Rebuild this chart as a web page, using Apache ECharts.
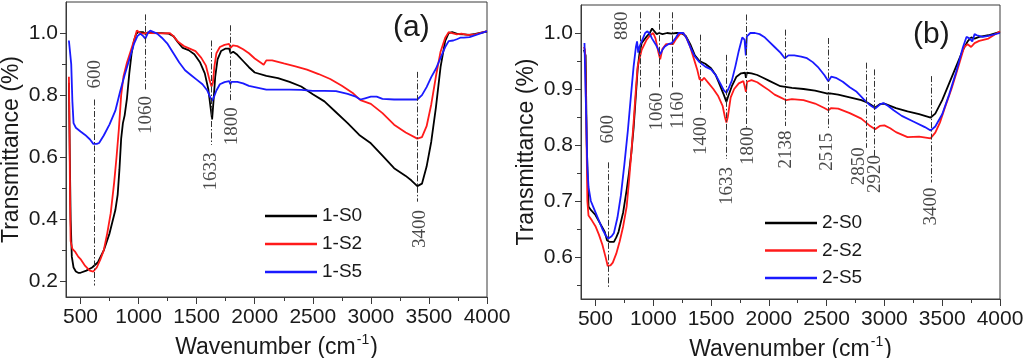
<!DOCTYPE html>
<html><head><meta charset="utf-8">
<script src="https://cdn.jsdelivr.net/npm/echarts@6/dist/echarts.min.js"></script>
<style>html,body{margin:0;padding:0;background:#fff}#c{width:1024px;height:358px}</style>
</head><body><div id="c"></div>
<script>
// ---------- tick values ----------
const xMajor = [500,1000,1500,2000,2500,3000,3500,4000];
const xMinor = [750,1250,1750,2250,2750,3250,3750];
const yMajorA = [0.2,0.4,0.6,0.8,1.0];
const yMinorA = [0.3,0.5,0.7,0.9];
const yMajorB = [0.6,0.7,0.8,0.9,1.0];
const yMinorB = [0.55,0.65,0.75,0.85,0.95];

// ---------- series names ----------
const namesA = ['1-S0','1-S2','1-S5'];
const namesB = ['2-S0','2-S2','2-S5'];

// ---------- panel (a) ----------
const a_S0 = [[400,0.84],[408,0.6],[415,0.40],[425,0.28],[440,0.245],[460,0.232],[480,0.228],[500,0.228],[550,0.235],[600,0.245],[650,0.262],[700,0.30],[750,0.355],[800,0.43],[820,0.48],[835,0.56],[850,0.66],[865,0.71],[880,0.735],[900,0.79],[920,0.87],[940,0.935],[960,0.975],[980,0.998],[1000,1.003],[1040,1.003],[1060,0.997],[1080,1.002],[1150,1.0],[1200,1.0],[1260,0.998],[1300,0.99],[1340,0.97],[1380,0.952],[1430,0.945],[1480,0.932],[1530,0.905],[1570,0.87],[1600,0.82],[1620,0.76],[1633,0.722],[1645,0.78],[1660,0.86],[1680,0.915],[1710,0.942],[1750,0.95],[1780,0.95],[1792,0.935],[1815,0.94],[1850,0.93],[1900,0.91],[1950,0.89],[2000,0.873],[2100,0.862],[2200,0.855],[2300,0.843],[2400,0.828],[2500,0.803],[2600,0.78],[2700,0.745],[2800,0.71],[2900,0.672],[3000,0.645],[3100,0.605],[3200,0.565],[3300,0.54],[3350,0.525],[3400,0.507],[3440,0.515],[3480,0.57],[3520,0.65],[3560,0.76],[3600,0.89],[3640,0.975],[3670,1.0],[3700,1.003],[3750,0.997],[3800,0.996],[3850,0.994],[3900,0.997],[4000,1.005]];
const a_S2 = [[400,0.859],[405,0.70],[410,0.45],[415,0.33],[430,0.305],[455,0.295],[480,0.28],[500,0.272],[540,0.25],[580,0.235],[610,0.232],[640,0.245],[670,0.27],[700,0.30],[730,0.355],[760,0.42],[790,0.52],[810,0.60],[830,0.69],[850,0.80],[870,0.86],[900,0.905],[930,0.94],[960,0.975],[985,1.008],[1000,1.012],[1015,1.0],[1040,0.998],[1060,1.0],[1100,1.0],[1200,0.999],[1270,1.0],[1300,0.99],[1340,0.972],[1390,0.958],[1440,0.95],[1490,0.942],[1540,0.92],[1580,0.895],[1610,0.85],[1628,0.828],[1640,0.84],[1652,0.89],[1670,0.935],[1700,0.955],[1740,0.962],[1780,0.965],[1792,0.952],[1812,0.96],[1850,0.958],[1900,0.948],[1950,0.935],[2000,0.918],[2050,0.905],[2077,0.898],[2100,0.912],[2150,0.912],[2250,0.902],[2350,0.893],[2450,0.882],[2550,0.868],[2650,0.852],[2750,0.83],[2850,0.805],[2910,0.784],[3000,0.772],[3100,0.742],[3200,0.705],[3300,0.68],[3400,0.66],[3440,0.665],[3480,0.70],[3520,0.77],[3560,0.86],[3600,0.94],[3640,0.985],[3670,1.003],[3700,1.0],[3740,0.996],[3780,0.998],[3830,0.994],[3900,0.996],[4000,1.006]];
const a_S5 = [[400,0.976],[412,0.976],[420,0.90],[430,0.78],[440,0.71],[460,0.695],[500,0.683],[540,0.672],[580,0.658],[610,0.643],[640,0.643],[660,0.646],[700,0.67],[750,0.706],[800,0.75],[840,0.81],[880,0.865],[920,0.915],[960,0.965],[990,0.99],[1015,0.998],[1040,0.99],[1058,0.982],[1080,1.0],[1100,1.008],[1130,1.003],[1160,0.998],[1200,0.985],[1250,0.965],[1300,0.935],[1350,0.905],[1400,0.88],[1450,0.865],[1500,0.85],[1550,0.835],[1590,0.816],[1615,0.795],[1633,0.782],[1650,0.795],[1670,0.815],[1700,0.835],[1740,0.842],[1780,0.845],[1790,0.835],[1800,0.843],[1850,0.843],[1900,0.838],[1950,0.83],[2000,0.826],[2100,0.818],[2200,0.818],[2300,0.818],[2400,0.817],[2500,0.814],[2600,0.814],[2700,0.813],[2800,0.804],[2870,0.795],[2910,0.786],[2950,0.79],[3000,0.795],[3050,0.795],[3100,0.788],[3200,0.786],[3300,0.786],[3400,0.786],[3440,0.80],[3480,0.826],[3520,0.858],[3560,0.885],[3600,0.92],[3640,0.955],[3670,0.974],[3710,0.976],[3740,0.98],[3770,0.985],[3800,0.985],[3850,0.987],[3900,0.993],[4000,1.006]];

// ---------- panel (b) ----------
const b_S0 = [[400,0.97],[415,0.96],[425,0.8],[440,0.69],[460,0.684],[500,0.675],[540,0.66],[580,0.645],[600,0.63],[620,0.627],[660,0.627],[680,0.635],[700,0.645],[740,0.68],[770,0.72],[790,0.75],[810,0.785],[830,0.83],[850,0.89],[865,0.935],[880,0.962],[900,0.982],[940,0.993],[970,1.0],[990,1.008],[1005,1.005],[1030,0.998],[1050,1.0],[1080,0.998],[1120,1.0],[1160,0.999],[1200,1.0],[1240,1.0],[1280,0.995],[1320,0.98],[1360,0.96],[1400,0.95],[1450,0.945],[1500,0.937],[1540,0.925],[1580,0.905],[1610,0.89],[1633,0.877],[1650,0.888],[1680,0.905],[1720,0.922],[1760,0.928],[1795,0.929],[1802,0.92],[1810,0.929],[1850,0.928],[1900,0.925],[1950,0.92],[2000,0.915],[2100,0.905],[2200,0.902],[2300,0.9],[2400,0.897],[2500,0.892],[2515,0.89],[2530,0.892],[2600,0.89],[2700,0.885],[2800,0.88],[2860,0.875],[2920,0.867],[2960,0.873],[3000,0.874],[3100,0.866],[3200,0.86],[3300,0.855],[3400,0.849],[3440,0.856],[3500,0.88],[3560,0.91],[3620,0.94],[3680,0.97],[3720,0.985],[3750,0.992],[3780,0.99],[3820,0.993],[3900,0.996],[4000,1.002]];
const b_S2 = [[400,0.975],[410,0.97],[420,0.85],[430,0.70],[440,0.674],[470,0.665],[500,0.655],[530,0.64],[560,0.622],[590,0.598],[606,0.584],[630,0.585],[650,0.59],[680,0.606],[710,0.628],[740,0.655],[770,0.69],[790,0.735],[810,0.785],[830,0.84],[850,0.9],[865,0.94],[880,0.953],[900,0.97],[940,0.987],[970,0.995],[1000,1.0],[1020,0.99],[1045,0.965],[1060,0.953],[1080,0.972],[1110,0.98],[1140,0.98],[1170,0.98],[1200,0.99],[1230,0.998],[1260,1.0],[1290,0.99],[1320,0.975],[1350,0.955],[1380,0.935],[1400,0.918],[1420,0.915],[1440,0.92],[1480,0.91],[1520,0.9],[1560,0.888],[1600,0.87],[1620,0.85],[1633,0.84],[1645,0.85],[1670,0.885],[1700,0.9],[1740,0.91],[1780,0.914],[1795,0.915],[1802,0.895],[1812,0.913],[1850,0.916],[1900,0.912],[1950,0.905],[2000,0.898],[2050,0.89],[2100,0.885],[2150,0.88],[2200,0.882],[2300,0.88],[2400,0.874],[2480,0.866],[2515,0.862],[2540,0.866],[2600,0.865],[2700,0.857],[2800,0.847],[2870,0.835],[2920,0.828],[2960,0.834],[3000,0.835],[3050,0.83],[3100,0.823],[3200,0.814],[3300,0.815],[3400,0.812],[3440,0.822],[3480,0.84],[3520,0.865],[3580,0.9],[3640,0.94],[3690,0.975],[3720,0.98],[3750,0.975],[3780,0.982],[3820,0.986],[3900,0.99],[4000,1.003]];
const b_S5 = [[405,0.982],[412,0.98],[420,0.85],[430,0.76],[440,0.725],[460,0.70],[480,0.69],[520,0.67],[560,0.65],[590,0.638],[612,0.633],[640,0.637],[660,0.643],[690,0.67],[720,0.71],[750,0.765],[780,0.825],[810,0.895],[830,0.94],[850,0.975],[860,0.985],[870,0.965],[880,0.975],[900,0.985],[930,1.0],[950,1.003],[970,0.998],[990,0.99],[1020,0.98],[1045,0.97],[1060,0.962],[1080,0.97],[1100,0.976],[1130,0.98],[1160,0.982],[1190,0.99],[1220,1.0],[1260,1.0],[1290,0.99],[1320,0.975],[1360,0.958],[1400,0.948],[1450,0.94],[1500,0.935],[1540,0.925],[1580,0.91],[1610,0.898],[1633,0.893],[1650,0.9],[1680,0.915],[1710,0.94],[1740,0.968],[1770,0.992],[1790,0.988],[1801,0.96],[1810,0.994],[1840,1.0],[1880,1.0],[1920,0.998],[1960,0.993],[2000,0.985],[2050,0.975],[2100,0.965],[2138,0.955],[2170,0.96],[2220,0.96],[2280,0.958],[2330,0.955],[2380,0.948],[2430,0.938],[2480,0.925],[2515,0.914],[2540,0.922],[2580,0.92],[2640,0.913],[2700,0.903],[2760,0.895],[2820,0.882],[2870,0.872],[2920,0.865],[2960,0.872],[2990,0.875],[3030,0.87],[3080,0.862],[3150,0.852],[3250,0.842],[3350,0.832],[3400,0.826],[3440,0.833],[3500,0.855],[3560,0.89],[3620,0.93],[3680,0.975],[3710,0.993],[3740,0.99],[3760,0.985],[3780,0.998],[3800,0.996],[3850,0.993],[3900,0.995],[4000,1.0]];

// ---------- peak annotations: [label, lineX, yTop, yBottom, labelX, labelY] ----------
const peaksA = [
  ['600', 615, 0.786, 0.187, 628, 0.867],
  ['1060', 1061, 1.06, 0.816, 1064, 0.736],
  ['1633', 1624, 0.976, 0.64, 1624, 0.554],
  ['1800', 1785, 1.025, 0.784, 1805, 0.70],
  ['3400', 3398, 0.875, 0.457, 3420, 0.369]
];
const peaksB = [
  ['600', 612, 0.769, 0.545, 612, 0.828],
  ['880', 886, 1.037, 0.90, 727, 1.013],
  ['1060', 1053, 1.037, 0.90, 1030, 0.86],
  ['1160', 1166, 1.037, 0.90, 1217, 0.862],
  ['1400', 1405, 0.997, 0.858, 1413, 0.816],
  ['1633', 1630, 0.961, 0.775, 1636, 0.727],
  ['1800', 1801, 1.033, 0.831, 1824, 0.798],
  ['2138', 2141, 1.006, 0.834, 2147, 0.792],
  ['2515', 2511, 0.991, 0.828, 2503, 0.788],
  ['2850', 2840, 0.947, 0.795, 2777, 0.762],
  ['2920', 2915, 0.935, 0.78, 2921, 0.748],
  ['3400', 3405, 0.923, 0.733, 3405, 0.69]
];

// ---------- styling ----------
const SANS = 'Liberation Sans, Arial, sans-serif';
const SERIF = 'Liberation Serif, Times New Roman, serif';
const AX = '#3a3a3a';
const TXT = '#1a1a1a';
const COLORS = ['#000000', '#ff1a1a', '#1a1aff'];

function xAxis(gi, minor) {
  return {
    type: 'value', gridIndex: gi, min: 375, max: 4000, position: 'bottom',
    axisLine: { show: !minor, onZero: false, lineStyle: { color: AX, width: 1 } },
    axisTick: { show: true, length: minor ? 4 : 7, customValues: minor ? xMinor : xMajor, lineStyle: { color: AX, width: 1 } },
    axisLabel: { show: !minor, customValues: xMajor, margin: 10, fontFamily: SANS, fontSize: 21, color: TXT, formatter: v => String(v) },
    splitLine: { show: false },
    name: minor ? '' : '{t|Wavenumber (cm}{s|-1}{t|)}',
    nameLocation: 'middle', nameGap: 31,
    nameTextStyle: { rich: {
      t: { fontFamily: SANS, fontSize: 23, color: TXT, lineHeight: 26, verticalAlign: 'bottom' },
      s: { fontFamily: SANS, fontSize: 14, color: TXT, lineHeight: 26, verticalAlign: 'top', padding: [0, 1, 12, 1] }
    } }
  };
}
function yAxis(gi, min, max, major, minorVals, minor) {
  return {
    type: 'value', gridIndex: gi, min: min, max: max, position: 'left',
    axisLine: { show: !minor, onZero: false, lineStyle: { color: AX, width: 1 } },
    axisTick: { show: true, length: minor ? 4 : 6, customValues: minor ? minorVals : major, lineStyle: { color: AX, width: 1 } },
    axisLabel: { show: !minor, customValues: major, margin: 8, fontFamily: SANS, fontSize: 21, color: TXT, formatter: v => v.toFixed(1) },
    splitLine: { show: false },
    name: minor ? '' : 'Transmittance (%)',
    nameLocation: 'middle', nameGap: 43,
    nameTextStyle: { fontFamily: SANS, fontSize: 23, color: TXT }
  };
}

function curve(name, data, color, xi, yi) {
  return { name: name, type: 'line', data: data, xAxisIndex: xi, yAxisIndex: yi,
    showSymbol: false, symbol: 'none', smooth: false, clip: true,
    lineStyle: { color: color, width: 1.8 }, itemStyle: { color: color }, z: 3 };
}
function peakLines(peaks, xi, yi) {
  return { type: 'line', data: [], xAxisIndex: xi, yAxisIndex: yi, silent: true, z: 2,
    markLine: { silent: true, symbol: ['none', 'none'], animation: false, label: { show: false },
      lineStyle: { color: '#333', width: 1, type: [6, 2, 1.5, 2] },
      data: peaks.map(p => [{ coord: [p[1], p[2]] }, { coord: [p[1], p[3]] }]) } };
}
function peakLabels(peaks, xi, yi) {
  return { type: 'scatter', xAxisIndex: xi, yAxisIndex: yi, silent: true, symbolSize: 0, z: 4,
    data: peaks.map(p => [p[4], p[5], p[0]]),
    label: { show: true, position: 'inside', rotate: 90, align: 'center', verticalAlign: 'middle',
      formatter: q => q.data[2], fontFamily: SERIF, fontSize: 19, color: '#1a1a1a' } };
}

const chart = echarts.init(document.getElementById('c'), null, { renderer: 'canvas' });
chart.setOption({
  animation: false,
  backgroundColor: '#fff',
  grid: [
    { left: 66, top: 2, width: 421, height: 295, show: true, borderColor: AX, borderWidth: 1, backgroundColor: 'transparent', containLabel: false, outerBoundsMode: 'none' },
    { left: 581, top: 5, width: 419, height: 294, show: true, borderColor: AX, borderWidth: 1, backgroundColor: 'transparent', containLabel: false, outerBoundsMode: 'none' }
  ],
  xAxis: [xAxis(0, false), xAxis(0, true), xAxis(1, false), xAxis(1, true)],
  yAxis: [
    yAxis(0, 0.15, 1.1, yMajorA, yMinorA, false), yAxis(0, 0.15, 1.1, yMajorA, yMinorA, true),
    yAxis(1, 0.525, 1.05, yMajorB, yMinorB, false), yAxis(1, 0.525, 1.05, yMajorB, yMinorB, true)
  ],
  legend: [
    { data: namesA, orient: 'vertical', left: 260, top: 200, itemWidth: 52, itemHeight: 2.5, itemGap: 6, icon: 'rect',
      textStyle: { fontFamily: SANS, fontSize: 19, color: TXT, lineHeight: 22 }, selectedMode: false },
    { data: namesB, orient: 'vertical', left: 760, top: 207, itemWidth: 52, itemHeight: 2.5, itemGap: 5.5, icon: 'rect',
      textStyle: { fontFamily: SANS, fontSize: 19, color: TXT, lineHeight: 22 }, selectedMode: false }
  ],
  graphic: [
    { type: 'text', left: 393, top: 13, style: { text: '(a)', font: '30px "Liberation Sans"', fill: TXT } },
    { type: 'text', left: 913, top: 20, style: { text: '(b)', font: '30px "Liberation Sans"', fill: TXT } }
  ],
  series: [
    peakLines(peaksA, 0, 0), peakLines(peaksB, 2, 2),
    curve(namesA[0], a_S0, COLORS[0], 0, 0),
    curve(namesA[1], a_S2, COLORS[1], 0, 0),
    curve(namesA[2], a_S5, COLORS[2], 0, 0),
    curve(namesB[0], b_S0, COLORS[0], 2, 2),
    curve(namesB[1], b_S2, COLORS[1], 2, 2),
    curve(namesB[2], b_S5, COLORS[2], 2, 2),
    peakLabels(peaksA, 0, 0), peakLabels(peaksB, 2, 2)
  ]
});
</script></body></html>
